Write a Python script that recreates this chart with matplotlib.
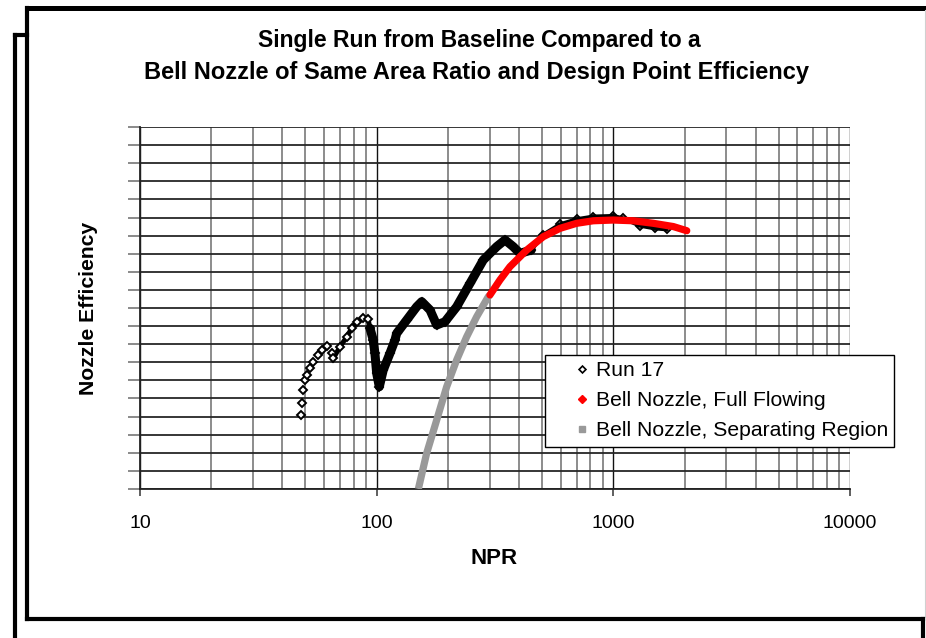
import matplotlib
matplotlib.use("Agg")
import matplotlib.pyplot as plt
from matplotlib.lines import Line2D
from matplotlib.ticker import LogLocator, NullFormatter, FixedLocator

plt.rcParams['font.family'] = ['Liberation Sans', 'DejaVu Sans']

# Run 17 measured efficiency vs nozzle pressure ratio
run17_npr = [47.7, 48.2, 49.0, 49.8, 50.6, 52.3, 54.0, 56.7, 58.6, 61.5,
             64.6, 65.6, 70.0, 74.7, 78.4, 82.3, 87.8, 92.1, 93.7, 96.7,
             98.3, 100.0, 102.6, 106.6, 113.8, 119.5, 121.5, 134.0, 147.6, 155.0,
             168.0, 179.3, 194.3, 217.8, 247.9, 282.1, 321.4, 348.5, 377.6, 403.1,
             450.0, 505.7, 595.0, 700.0, 823.0, 999.0, 1101.0, 1295.0, 1500.0, 1680.0]
run17_eff = [0.8409, 0.8473, 0.8547, 0.8602, 0.8630, 0.8667, 0.8703, 0.8740, 0.8768, 0.8790,
             0.8750, 0.8722, 0.8786, 0.8840, 0.8888, 0.8924, 0.8943, 0.8938, 0.8888, 0.8823,
             0.8750, 0.8640, 0.8565, 0.8657, 0.8750, 0.8823, 0.8860, 0.8934, 0.9007, 0.9035,
             0.8989, 0.8906, 0.8924, 0.9007, 0.9136, 0.9265, 0.9339, 0.9376, 0.9339, 0.9302,
             0.9320, 0.9405, 0.9462, 0.9490, 0.9505, 0.9508, 0.9495, 0.9455, 0.9440, 0.9435]

# Bell nozzle, full flowing
bell_full_npr = [301.0, 331.9, 365.6, 430.5, 505.7, 594.9, 699.8, 822.7, 999.0, 1213.0, 1474.0, 1792.0, 2043.0]
bell_full_eff = [0.9072, 0.9155, 0.9228, 0.9320, 0.9394, 0.9440, 0.9468, 0.9482, 0.9486, 0.9482, 0.9468, 0.9450, 0.9427]

# Bell nozzle, separating region
bell_sep_npr = [150.0, 162.6, 179.3, 197.6, 217.8, 240.0, 264.6, 296.0, 301.0]
bell_sep_eff = [0.8000, 0.8197, 0.8381, 0.8565, 0.8713, 0.8841, 0.8952, 0.9062, 0.9072]

x_ticks = [10, 100, 1000, 10000]
x_tick_labels = ["10", "100", "1000", "10000"]

W, H = 926, 638
fig = plt.figure(figsize=(W / 100, H / 100), dpi=100)
fig.patch.set_facecolor('white')


def fx(px):
    return px / W


def fy(py):
    return 1 - py / H


ax = fig.add_axes([fx(140), fy(489), fx(850) - fx(140), fy(127) - fy(489)])
ax.set_xscale('log')
ax.set_xlim(10, 10000)
ax.set_ylim(0.80, 1.00)

# Grid
ax.xaxis.set_major_locator(FixedLocator(x_ticks))
ax.xaxis.set_minor_locator(LogLocator(base=10, subs=range(2, 10)))
ax.xaxis.set_minor_formatter(NullFormatter())
ax.set_xticklabels(x_tick_labels)
ax.yaxis.set_major_locator(FixedLocator([0.80 + 0.01 * i for i in range(21)]))
ax.set_yticklabels([])
ax.grid(True, which='minor', axis='x', color='#8c8c8c', linewidth=1.4, zorder=0)
ax.grid(True, which='major', axis='x', color='#111111', linewidth=1.0, zorder=0)
ax.grid(True, which='major', axis='y', color='#262626', linewidth=1.3, zorder=0)
ax.set_axisbelow(True)

for side in ['top', 'right']:
    ax.spines[side].set_visible(False)
ax.spines['left'].set_color('#222222')
ax.spines['left'].set_linewidth(1.3)
ax.spines['bottom'].set_color('#222222')
ax.spines['bottom'].set_linewidth(1.3)

ax.tick_params(axis='x', which='major', direction='out', length=5, width=1.2,
               color='#444444', labelsize=14, pad=14)
ax.tick_params(axis='x', which='minor', length=0)
ax.tick_params(axis='y', which='major', direction='out', length=8.5, width=1.2,
               color='#777777')

# Data series
ax.plot(bell_sep_npr, bell_sep_eff, color='#999999', linewidth=5.2,
        solid_capstyle='butt', zorder=3)

# Run 17: dense stretch drawn as a heavy band, sparse stretch as open diamonds
mid = [i for i, n in enumerate(run17_npr) if 93.0 <= n <= 450.0]
high = [i for i, n in enumerate(run17_npr) if n >= 403.0]
ax.plot([run17_npr[i] for i in mid], [run17_eff[i] for i in mid],
        color='black', linewidth=6.5, solid_joinstyle='round',
        solid_capstyle='round', zorder=5)
ax.plot(run17_npr[10:19], run17_eff[10:19], color='black', linewidth=3.5,
        solid_capstyle='round', zorder=5)
ax.plot([run17_npr[i] for i in high], [run17_eff[i] for i in high],
        color='black', linewidth=3.0, solid_capstyle='round', zorder=5)
ax.plot(run17_npr[:18], run17_eff[:18], color='black', linewidth=0,
        marker='D', markersize=4.2, markerfacecolor='white',
        markeredgecolor='black', markeredgewidth=1.4, zorder=6)
ax.plot(run17_npr[18:], run17_eff[18:], color='black', linewidth=0,
        marker='D', markersize=4.2, markerfacecolor='none',
        markeredgecolor='black', markeredgewidth=1.4, zorder=6)

ax.plot(bell_full_npr, bell_full_eff, color='#ff0000', linewidth=5.2,
        solid_capstyle='round', zorder=7)

# Labels
fig.text(fx(479), fy(41), "Single Run from Baseline Compared to a",
         ha='center', va='center', fontsize=16.5, fontweight='bold')
fig.text(fx(477), fy(72), "Bell Nozzle of Same Area Ratio and Design Point Efficiency",
         ha='center', va='center', fontsize=17, fontweight='bold')
fig.text(fx(494), fy(558), "NPR", ha='center', va='center',
         fontsize=16, fontweight='bold')
fig.text(fx(88), fy(308), "Nozzle Efficiency", ha='center', va='center',
         rotation=90, fontsize=15.2, fontweight='bold')

# Legend
handles = [
    Line2D([], [], linestyle='none', marker='D', markersize=3.5,
           markerfacecolor='white', markeredgecolor='black', markeredgewidth=1.2),
    Line2D([], [], linestyle='none', marker='D', markersize=3.9,
           markerfacecolor='red', markeredgecolor='red'),
    Line2D([], [], linestyle='none', marker='s', markersize=4.6,
           markerfacecolor='#999999', markeredgecolor='#999999'),
]
labels = ["Run 17", "Bell Nozzle, Full Flowing", "Bell Nozzle, Separating Region"]
leg = fig.legend(handles, labels, loc='upper left',
                 bbox_to_anchor=(fx(545), fy(355)), borderaxespad=0,
                 fancybox=False, framealpha=1, edgecolor='black',
                 fontsize=15.2, handlelength=2.9, handletextpad=-0.8,
                 borderpad=0.3, labelspacing=0.52)
leg.get_frame().set_linewidth(1.0)
leg.set_zorder(10)


# Page frames
def seg(x0, y0, x1, y1, color='black', lw=3.0):
    fig.add_artist(Line2D([fx(x0), fx(x1)], [fy(y0), fy(y1)], color=color,
                          linewidth=lw, solid_capstyle='projecting'))


seg(27, 8, 926, 8, lw=3.6)
seg(27, 8, 27, 619, lw=3.0)
seg(27, 619, 923, 619, lw=3.0)
seg(925, 10, 925, 617, color='#d0d0d0', lw=0.8)
seg(923, 619, 923, 638, lw=3.0)
seg(15, 35, 27, 35, lw=3.0)
seg(15, 35, 15, 638, lw=3.0)

fig.savefig("out.png", dpi=100, facecolor='white')
